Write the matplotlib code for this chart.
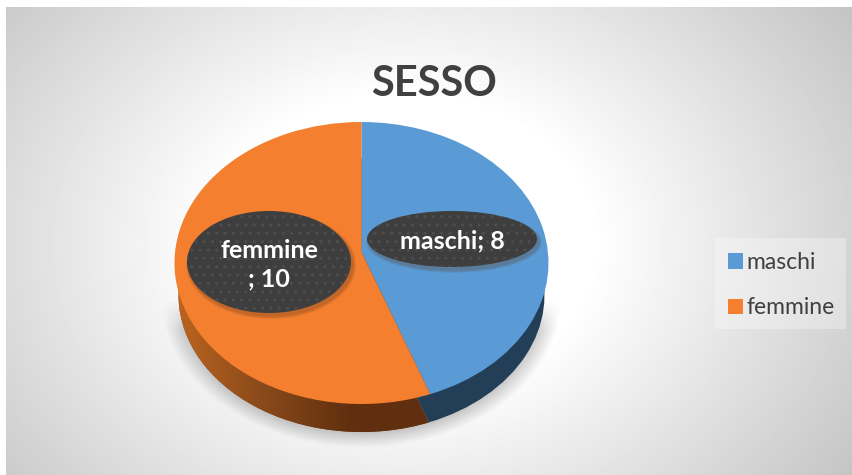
import numpy as np
import matplotlib.pyplot as plt
from matplotlib.patches import Ellipse, Rectangle
from matplotlib.transforms import Affine2D, Transform
from matplotlib.colors import LinearSegmentedColormap

categories = ['maschi', 'femmine']
values = [8, 10]
colors = ['#5B9BD5', '#F37F2F']
title = 'SESSO'
label_texts = ['maschi; 8', 'femmine\n; 10']

W, H = 853, 475
plt.rcParams['font.family'] = ['Lato', 'DejaVu Sans']


# the pie is tilted, so its centre sits above the middle of the ellipse
class Tilt(Transform):
    input_dims = output_dims = 2

    def __init__(self, k):
        super().__init__()
        self.k = k

    def transform_non_affine(self, xy):
        xy = np.asarray(xy)
        d = 1 + self.k * xy[:, 1]
        return np.column_stack([xy[:, 0] * np.sqrt(1 - self.k**2) / d, (xy[:, 1] + self.k) / d])


fig = plt.figure(figsize=(W / 100, H / 100), dpi=100, facecolor='white')
ax = fig.add_axes([0, 0, 1, 1])

# background gradient
yy, xx = np.mgrid[0:H, 0:W]
dist = np.sqrt(((xx - 400) / 640)**2 + ((yy - 240) / 500)**2)
shade = 1 - np.clip(dist - 0.3, 0, None) * 0.42
ax.imshow(shade, extent=(6, W, H, 7), cmap='gray', vmin=0, vmax=1, zorder=0, aspect='auto')

# soft shadow hugging the lower edge of the pie
e = np.sqrt(((xx - 361) / 200)**2 + ((yy - 298) / 149)**2)
soft = np.clip((1 - e) / 0.11, 0, 1) * np.clip((yy - 300) / 30, 0, 1)
rgba = np.zeros((H, W, 4))
rgba[..., :3] = 0.45
rgba[..., 3] = soft * 0.42
ax.imshow(rgba, extent=(0, W, H, 0), zorder=1, aspect='auto')

top_tf = Affine2D().scale(187, -141).translate(361.5, 263) + ax.transData
side_tf = Affine2D().scale(183, -137).translate(361.5, 295) + ax.transData

# side of the pie
side, _ = ax.pie(values, startangle=90, counterclock=False, colors=['#233F57', '#7A3F18'],
                 wedgeprops={'linewidth': 0})
for w in side:
    w.set_transform(Tilt(0.078) + side_tf)
    w.set_zorder(2)

side_cmap = LinearSegmentedColormap.from_list('side', ['#BD651F', '#8A4A1B', '#61300F', '#5F2F0F'])
grad = ax.imshow(np.linspace(0, 1, 256).reshape(1, -1), extent=(174, 436, 440, 290), cmap=side_cmap,
                 zorder=2.5, aspect='auto')
grad.set_clip_path(side[1])

# top of the pie
wedges, _ = ax.pie(values, startangle=90, counterclock=False, colors=colors,
                   wedgeprops={'linewidth': 0})
for w in wedges:
    w.set_transform(Tilt(0.078) + top_tf)
    w.set_zorder(3)

# data labels
label_boxes = [(452, 239, 85, 28), (269, 262, 82, 51)]
text_shift = [2, 3]
for text, (cx, cy, rx, ry), dy in zip(label_texts, label_boxes, text_shift):
    for i in range(6):
        grow = 6 - i
        ax.add_patch(Ellipse((cx + 2, cy + 3), 2 * rx + grow, 2 * ry + grow, fc='#5a3a20', ec='none',
                             alpha=0.06, zorder=4))
    ax.add_patch(Ellipse((cx, cy), 2 * rx, 2 * ry, fc='#3E3E3E', ec='#4E4E4E', lw=0, hatch='..',
                         zorder=5))
    ax.text(cx, cy + dy, text, color='white', fontsize=18, fontweight='bold', ha='center', va='center',
            linespacing=1.3, zorder=6)

ax.text(434, 84, title, color='#404040', fontsize=30, fontweight='bold', ha='center', va='center',
        zorder=6)

# legend
ax.add_patch(Rectangle((715, 238), 131, 91, fc='white', ec='none', alpha=0.3, zorder=3))
leg = ax.legend(wedges, categories, loc='upper left', bbox_to_anchor=(728 / W, 1 - 252 / H),
                bbox_transform=fig.transFigure, frameon=False, fontsize=16.5, labelcolor='#404040',
                handlelength=0.65, handleheight=0.65, handletextpad=0.15, labelspacing=1.06,
                borderpad=0, borderaxespad=0)
leg.set_zorder(6)

ax.set_xlim(0, W)
ax.set_ylim(H, 0)
ax.set_aspect('auto')
ax.axis('off')

fig.savefig('out.png', dpi=100, facecolor='white')
